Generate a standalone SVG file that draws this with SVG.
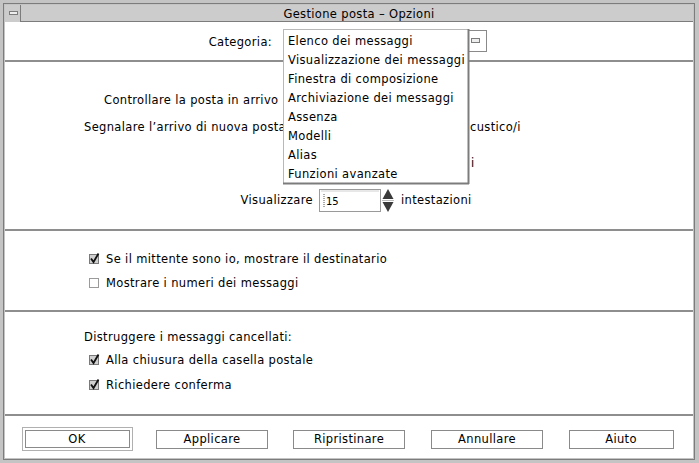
<svg xmlns="http://www.w3.org/2000/svg" width="699" height="463" viewBox="0 0 699 463">
<style>
text{font-family:"DejaVu Sans","Liberation Sans",sans-serif;font-size:11.5px;letter-spacing:0.35px;fill:#000}
.sep{stroke:#8e8e8e;stroke-width:2}
.btn{fill:#fff;stroke:#8a8a8a;stroke-width:1}
.cb{fill:#d0d0d0;stroke:#7a7a7a;stroke-width:1}
.cbu{fill:#fff;stroke:#9a9a9a;stroke-width:1}
.chk{fill:none;stroke:#111;stroke-width:1.8}
.mid{text-anchor:middle}
.end{text-anchor:end}
</style>
<g id="frame">
<rect x="0" y="0" width="699" height="463" fill="#c4c4c4"/>
<rect x="3.5" y="3.5" width="691" height="456" fill="none" stroke="#7c7c7c" stroke-width="1"/>
<rect x="5" y="5" width="688" height="17" fill="#cccccc"/>
<line x1="5" y1="21.5" x2="693" y2="21.5" stroke="#7c7c7c"/>
<rect x="5" y="22" width="688" height="436" fill="#ffffff"/>
</g>
<g id="menu-button">
<rect x="5" y="5" width="16" height="17" fill="#cccccc"/>
<line x1="20.5" y1="5" x2="20.5" y2="22" stroke="#7c7c7c"/>
<rect x="9.5" y="11.5" width="8" height="3" fill="#eeeeee" stroke="#7c7c7c"/>
</g>
<g id="title"><text x="359" y="18" class="mid">Gestione posta – Opzioni</text></g>
<g id="separators">
<line class="sep" x1="5" y1="61" x2="693" y2="61"/>
<line class="sep" x1="5" y1="230" x2="693" y2="230"/>
<line class="sep" x1="5" y1="311" x2="693" y2="311"/>
<line class="sep" x1="5" y1="415" x2="693" y2="415"/>
</g>
<g id="categoria-label"><text x="272" y="46" class="end">Categoria:</text></g>
<g id="categoria-button">
<rect x="466.5" y="30.5" width="20" height="21" fill="#fff" stroke="#8a8a8a"/>
<rect x="471.5" y="38.5" width="8" height="4" fill="#eee" stroke="#7c7c7c"/>
</g>
<g id="controllare"><text x="104" y="104">Controllare la posta in arrivo</text></g>
<g id="segnalare">
<text x="84" y="131">Segnalare l’arrivo di nuova posta</text>
<text x="470" y="131">custico/i</text>
<text x="471" y="167">i</text>
</g>
<g id="visualizzare">
<text x="313" y="204" class="end">Visualizzare</text>
<rect x="319.5" y="189.5" width="61" height="22" fill="#fff" stroke="#9a9a9a"/>
<line x1="321" y1="191" x2="379" y2="191" stroke="#d0d0d0"/>
<line x1="324" y1="194" x2="324" y2="207" stroke="#555" stroke-width="1" stroke-dasharray="1,1"/>
<text x="326" y="205" style="font-size:10px;letter-spacing:0">15</text>
<polygon points="388,189 393.5,199 382.5,199" fill="#3a3a3a"/>
<line x1="382" y1="200.5" x2="394" y2="200.5" stroke="#bbbbbb"/>
<polygon points="382.5,202 393.5,202 388,212" fill="#3a3a3a"/>
<text x="401" y="204">intestazioni</text>
</g>
<g id="popup">
<rect x="283.5" y="29.5" width="185" height="154" fill="#fff" stroke="#b8b8b8"/>
<line x1="468.5" y1="29" x2="468.5" y2="184" stroke="#7c7c7c" stroke-width="2"/>
<line x1="283" y1="183.5" x2="469" y2="183.5" stroke="#7c7c7c" stroke-width="2"/>
<text x="288" y="45">Elenco dei messaggi</text>
<text x="288" y="64">Visualizzazione dei messaggi</text>
<text x="288" y="83">Finestra di composizione</text>
<text x="288" y="102">Archiviazione dei messaggi</text>
<text x="288" y="121">Assenza</text>
<text x="288" y="140">Modelli</text>
<text x="288" y="159">Alias</text>
<text x="288" y="178">Funzioni avanzate</text>
</g>
<g id="cb-mittente">
<rect class="cb" x="89.5" y="254.5" width="9" height="9"/>
<path class="chk" d="M91,258.5 L93.5,262 L98.5,253.5"/>
<text x="106" y="263">Se il mittente sono io, mostrare il destinatario</text>
</g>
<g id="cb-numeri">
<rect class="cbu" x="89.5" y="278.5" width="9" height="9"/>
<text x="106" y="287">Mostrare i numeri dei messaggi</text>
</g>
<g id="distruggere"><text x="84" y="341">Distruggere i messaggi cancellati:</text></g>
<g id="cb-chiusura">
<rect class="cb" x="89.5" y="355.5" width="9" height="9"/>
<path class="chk" d="M91,359.5 L93.5,363 L98.5,354.5"/>
<text x="106" y="364">Alla chiusura della casella postale</text>
</g>
<g id="cb-conferma">
<rect class="cb" x="89.5" y="380.5" width="9" height="9"/>
<path class="chk" d="M91,384.5 L93.5,388 L98.5,379.5"/>
<text x="106" y="389">Richiedere conferma</text>
</g>
<g id="btn-ok">
<rect x="22.5" y="427.5" width="110" height="23" fill="#fff" stroke="#b0b0b0"/>
<rect class="btn" x="25.5" y="430.5" width="104" height="17" stroke="#777"/>
<text x="77" y="443" class="mid">OK</text>
</g>
<g id="btn-applicare">
<rect class="btn" x="156.5" y="430.5" width="111" height="18"/>
<text x="212" y="443" class="mid">Applicare</text>
</g>
<g id="btn-ripristinare">
<rect class="btn" x="293.5" y="430.5" width="111" height="18"/>
<text x="349" y="443" class="mid">Ripristinare</text>
</g>
<g id="btn-annullare">
<rect class="btn" x="431.5" y="430.5" width="111" height="18"/>
<text x="487" y="443" class="mid">Annullare</text>
</g>
<g id="btn-aiuto">
<rect class="btn" x="569.5" y="430.5" width="104" height="18"/>
<text x="621" y="443" class="mid">Aiuto</text>
</g>
</svg>
